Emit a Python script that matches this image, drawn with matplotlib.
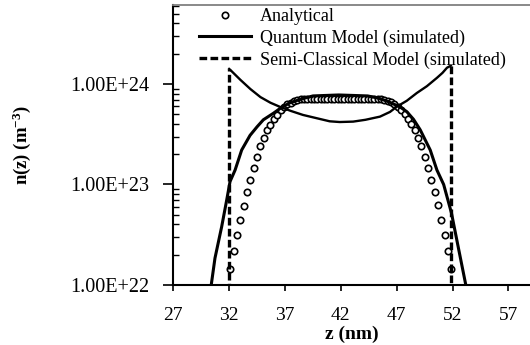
import matplotlib

matplotlib.use("Agg")
import matplotlib.pyplot as plt
from matplotlib.ticker import FixedLocator, FuncFormatter, LogLocator, NullFormatter

# analytical profile (open circles)
z_analytical = [
    32.1, 32.4, 32.7, 33.0, 33.3, 33.6, 33.9, 34.2, 34.5, 34.8,
    35.1, 35.4, 35.7, 36.0, 36.3, 36.6, 36.9, 37.2, 37.5, 37.8,
    38.1, 38.4, 38.7, 39.0, 39.3, 39.6, 39.9, 40.2, 40.5, 40.8,
    41.1, 41.4, 41.7, 42.0, 42.3, 42.6, 42.9, 43.2, 43.5, 43.8,
    44.1, 44.4, 44.7, 45.0, 45.3, 45.6, 45.9, 46.2, 46.5, 46.8,
    47.1, 47.4, 47.7, 48.0, 48.3, 48.6, 48.9, 49.2, 49.5, 49.8,
    50.1, 50.4, 50.7, 51.0, 51.3, 51.6, 51.9,
]
n_analytical = [
    1.45e22, 2.16e22, 3.12e22, 4.41e22, 6.11e22, 8.42e22, 1.11e23, 1.46e23, 1.88e23, 2.40e23,
    2.90e23, 3.46e23, 3.94e23, 4.45e23, 4.95e23, 5.48e23, 5.90e23, 6.28e23, 6.52e23, 6.78e23,
    6.93e23, 7.02e23, 7.07e23, 7.10e23, 7.12e23, 7.13e23, 7.14e23, 7.15e23, 7.15e23, 7.15e23,
    7.15e23, 7.15e23, 7.15e23, 7.15e23, 7.15e23, 7.15e23, 7.15e23, 7.15e23, 7.15e23, 7.14e23,
    7.14e23, 7.13e23, 7.12e23, 7.10e23, 7.07e23, 7.02e23, 6.94e23, 6.80e23, 6.55e23, 6.30e23,
    5.95e23, 5.56e23, 5.03e23, 4.52e23, 4.01e23, 3.46e23, 2.92e23, 2.40e23, 1.88e23, 1.46e23,
    1.12e23, 8.42e22, 6.20e22, 4.41e22, 3.12e22, 2.16e22, 1.45e22,
]

# quantum model (solid bell)
z_quantum = [30.35, 30.73, 31.33, 31.78, 32.08, 32.53, 33.12, 33.87, 34.5, 35.06, 35.95, 36.7,
             37.45, 38.5, 39.5, 41.8, 44.4, 45.4, 46.2, 47.3, 47.9, 48.5, 49.1, 50.0, 50.6,
             51.2, 51.9, 52.5, 53.25]
n_quantum = [9.2e21, 1.85e22, 3.8e22, 7.0e22, 1.07e23, 1.39e23, 2.2e23, 3.08e23, 3.75e23, 4.4e23,
             5.1e23, 5.85e23, 6.5e23, 7.1e23, 7.6e23, 7.77e23, 7.6e23, 7.2e23, 6.7e23, 5.9e23,
             5.3e23, 4.45e23, 3.5e23, 2.2e23, 1.39e23, 1.0e23, 5.2e22, 2.4e22, 9.2e21]

# semi-classical model (hard walls + U shaped profile)
z_semi = [32.0, 32.0, 32.1, 33.0, 33.9, 34.8, 35.7, 36.5, 37.5, 38.6, 39.7, 41.0, 41.9, 43.1,
          44.2, 45.5, 46.4, 47.0, 47.9, 48.8, 49.7, 50.6, 51.1, 51.5, 51.85, 51.85]
n_semi = [1e21, 1.41e24, 1.38e24, 1.10e24, 8.9e23, 7.4e23, 6.5e23, 5.95e23, 5.4e23, 4.92e23,
          4.6e23, 4.25e23, 4.18e23, 4.22e23, 4.4e23, 4.73e23, 5.27e23, 5.94e23, 6.8e23, 8.13e23,
          9.5e23, 1.15e24, 1.29e24, 1.45e24, 1.52e24, 1e21]

x_ticks = [27, 32, 37, 42, 47, 52, 57]
y_ticks = [1e22, 1e23, 1e24]

plt.rcParams.update(
    {
        "font.family": "Liberation Serif",
        "mathtext.fontset": "custom",
        "mathtext.rm": "Liberation Serif",
        "mathtext.bf": "Liberation Serif:bold",
        "mathtext.default": "bf",
    }
)

fig = plt.figure(figsize=(5.3, 3.45), dpi=100)
ax = fig.add_axes([173.3 / 530, 1 - 285 / 345, 1 - 173.3 / 530, 280 / 345])

ax.plot(z_analytical, n_analytical, linestyle="none", marker="o", markersize=4.6,
        markerfacecolor="white", markeredgecolor="black", markeredgewidth=1.2,
        label="Analytical", zorder=3)
ax.plot(z_quantum, n_quantum, color="black", linewidth=2.2,
        label="Quantum Model (simulated)", zorder=4)
# walls drawn dashed, the inner profile looks solid in the original
ax.plot(z_semi[:2], n_semi[:2], color="black", linewidth=2.4, dashes=(2.3, 1.0),
        label="Semi-Classical Model (simulated)", zorder=4)
ax.plot(z_semi[-2:], n_semi[-2:], color="black", linewidth=2.4, dashes=(2.3, 1.0), zorder=4)
ax.plot(z_semi[1:-1], n_semi[1:-1], color="black", linewidth=1.7, zorder=4)

ax.set_yscale("log")
ax.set_xlim(27, 58.93)
ax.set_ylim(1e22, 6.1e24)

ax.xaxis.set_major_locator(FixedLocator(x_ticks))
ax.yaxis.set_major_locator(FixedLocator(y_ticks))
ax.yaxis.set_minor_locator(LogLocator(base=10, subs=range(2, 10)))
ax.yaxis.set_minor_formatter(NullFormatter())
ax.yaxis.set_major_formatter(FuncFormatter(lambda v, _: f"{v:.2E}"))

ax.tick_params(axis="x", which="major", direction="out", length=4, width=1.2,
               pad=12, labelsize=14)
ax.tick_params(axis="y", which="major", direction="out", length=7, width=1.2,
               pad=10, labelsize=14.5)
ax.tick_params(axis="y", which="minor", direction="in", length=4, width=1.0)

for side in ("left", "bottom"):
    ax.spines[side].set_linewidth(1.5)
ax.spines["right"].set_visible(False)
ax.spines["top"].set_color("#808080")
ax.spines["top"].set_linewidth(1.3)

ax.set_xlabel("z (nm)", fontsize=14, fontweight="bold", labelpad=1)
ax.set_ylabel(r"n(z) (m$^{-3}$)", fontsize=13.5, fontweight="bold")
ax.yaxis.set_label_coords(-0.393, 0.5)

ax.legend(loc="upper left", bbox_to_anchor=(199 / 530, 1 - 8 / 345),
          bbox_transform=fig.transFigure, frameon=False, fontsize=13,
          handlelength=2.9, handletextpad=0.48, labelspacing=0.25,
          borderpad=0, borderaxespad=0)

fig.savefig("out.png", dpi=100)
plt.close(fig)
